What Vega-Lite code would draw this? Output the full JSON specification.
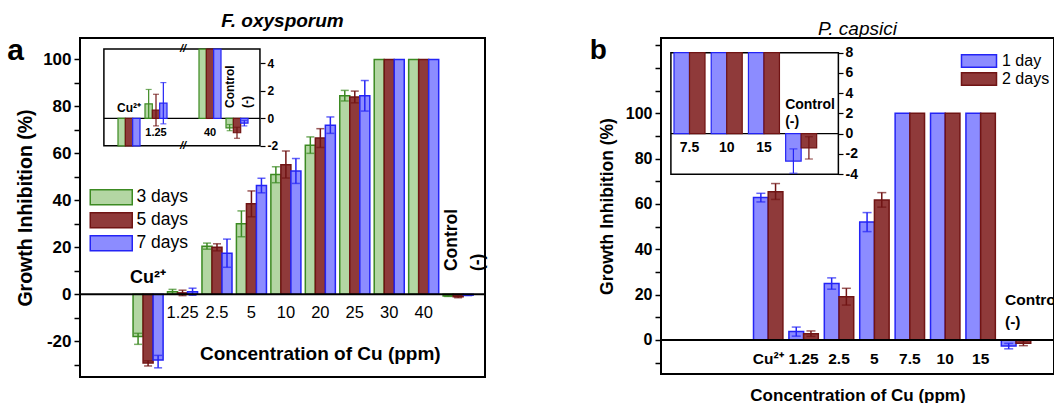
{
  "$schema": "https://vega.github.io/schema/vega-lite/v6.json",
  "background": "white",
  "padding": {"left": 6, "top": 11, "right": 0, "bottom": 0},
  "spacing": 100,
  "datasets": {
    "a_main": [
      {"cat": "Cu²⁺", "s": "3 days", "v": -18, "lo": -21.3, "hi": -16.6},
      {"cat": "Cu²⁺", "s": "5 days", "v": -29.2, "lo": -30.5, "hi": -28.3},
      {"cat": "Cu²⁺", "s": "7 days", "v": -28, "lo": -31.3, "hi": -26},
      {"cat": "1.25", "s": "3 days", "v": 1.05, "lo": 0, "hi": 2.1},
      {"cat": "1.25", "s": "5 days", "v": 0.6, "lo": -0.55, "hi": 1.75},
      {"cat": "1.25", "s": "7 days", "v": 1.1, "lo": -0.4, "hi": 2.6},
      {"cat": "2.5", "s": "3 days", "v": 20.5, "lo": 19.2, "hi": 21.8},
      {"cat": "2.5", "s": "5 days", "v": 20, "lo": 18.5, "hi": 21.5},
      {"cat": "2.5", "s": "7 days", "v": 17.5, "lo": 11.5, "hi": 23.5},
      {"cat": "5", "s": "3 days", "v": 30, "lo": 24.5, "hi": 35.5},
      {"cat": "5", "s": "5 days", "v": 38.5, "lo": 33, "hi": 44},
      {"cat": "5", "s": "7 days", "v": 46.3, "lo": 43.2, "hi": 49.4},
      {"cat": "10", "s": "3 days", "v": 51, "lo": 47.5, "hi": 54.3},
      {"cat": "10", "s": "5 days", "v": 55.2, "lo": 49.5, "hi": 61},
      {"cat": "10", "s": "7 days", "v": 52.5, "lo": 47.2, "hi": 57.8},
      {"cat": "20", "s": "3 days", "v": 63.5, "lo": 60, "hi": 67},
      {"cat": "20", "s": "5 days", "v": 66.5, "lo": 62.5, "hi": 70.5},
      {"cat": "20", "s": "7 days", "v": 72, "lo": 68.5, "hi": 75.5},
      {"cat": "25", "s": "3 days", "v": 84.5, "lo": 82.3, "hi": 86.8},
      {"cat": "25", "s": "5 days", "v": 84, "lo": 81.5, "hi": 86.5},
      {"cat": "25", "s": "7 days", "v": 84.5, "lo": 78, "hi": 91},
      {"cat": "30", "s": "3 days", "v": 100},
      {"cat": "30", "s": "5 days", "v": 100},
      {"cat": "30", "s": "7 days", "v": 100},
      {"cat": "40", "s": "3 days", "v": 100},
      {"cat": "40", "s": "5 days", "v": 100},
      {"cat": "40", "s": "7 days", "v": 100},
      {"cat": "Control", "s": "3 days", "v": -0.7, "lo": -0.9, "hi": -0.45},
      {"cat": "Control", "s": "5 days", "v": -1.05, "lo": -1.45, "hi": -0.65},
      {"cat": "Control", "s": "7 days", "v": -0.35, "lo": -0.55, "hi": -0.15}
    ],
    "a_inset": [
      {"cat": "Cu²⁺", "s": "3 days", "v": -2},
      {"cat": "Cu²⁺", "s": "5 days", "v": -2},
      {"cat": "Cu²⁺", "s": "7 days", "v": -2},
      {"cat": "1.25", "s": "3 days", "v": 1.05, "lo": 0, "hi": 2.1},
      {"cat": "1.25", "s": "5 days", "v": 0.6, "lo": -0.55, "hi": 1.75},
      {"cat": "1.25", "s": "7 days", "v": 1.1, "lo": -0.4, "hi": 2.6},
      {"cat": "40", "s": "3 days", "v": 5.04},
      {"cat": "40", "s": "5 days", "v": 5.04},
      {"cat": "40", "s": "7 days", "v": 5.04},
      {"cat": "Control", "s": "3 days", "v": -0.7, "lo": -0.9, "hi": -0.45},
      {"cat": "Control", "s": "5 days", "v": -1.05, "lo": -1.45, "hi": -0.65},
      {"cat": "Control", "s": "7 days", "v": -0.35, "lo": -0.55, "hi": -0.15}
    ],
    "a_lab": [
      {"cat": "1.25"}, {"cat": "2.5"}, {"cat": "5"}, {"cat": "10"},
      {"cat": "20"}, {"cat": "25"}, {"cat": "30"}, {"cat": "40"}
    ],
    "b_main": [
      {"cat": "Cu²⁺", "s": "1 day", "v": 62.8, "lo": 60.9, "hi": 64.7},
      {"cat": "Cu²⁺", "s": "2 days", "v": 65.4, "lo": 62, "hi": 69},
      {"cat": "1.25", "s": "1 day", "v": 3.7, "lo": 1.7, "hi": 5.7},
      {"cat": "1.25", "s": "2 days", "v": 2.8, "lo": 1.6, "hi": 4},
      {"cat": "2.5", "s": "1 day", "v": 24.9, "lo": 22.4, "hi": 27.4},
      {"cat": "2.5", "s": "2 days", "v": 19.1, "lo": 15.4, "hi": 22.8},
      {"cat": "5", "s": "1 day", "v": 52, "lo": 47.8, "hi": 56.2},
      {"cat": "5", "s": "2 days", "v": 61.8, "lo": 58.6, "hi": 65},
      {"cat": "7.5", "s": "1 day", "v": 100},
      {"cat": "7.5", "s": "2 days", "v": 100},
      {"cat": "10", "s": "1 day", "v": 100},
      {"cat": "10", "s": "2 days", "v": 100},
      {"cat": "15", "s": "1 day", "v": 100},
      {"cat": "15", "s": "2 days", "v": 100},
      {"cat": "Control", "s": "1 day", "v": -2.7, "lo": -3.9, "hi": -1.5},
      {"cat": "Control", "s": "2 days", "v": -1.4, "lo": -2.5, "hi": -0.3}
    ],
    "b_inset": [
      {"cat": "7.5", "s": "1 day", "v": 8},
      {"cat": "7.5", "s": "2 days", "v": 8},
      {"cat": "10", "s": "1 day", "v": 8},
      {"cat": "10", "s": "2 days", "v": 8},
      {"cat": "15", "s": "1 day", "v": 8},
      {"cat": "15", "s": "2 days", "v": 8},
      {"cat": "Control", "s": "1 day", "v": -2.7, "lo": -3.9, "hi": -1.5},
      {"cat": "Control", "s": "2 days", "v": -1.4, "lo": -2.5, "hi": -0.3}
    ],
    "b_lab": [
      {"cat": "Cu²⁺"}, {"cat": "1.25"}, {"cat": "2.5"}, {"cat": "5"},
      {"cat": "7.5"}, {"cat": "10"}, {"cat": "15"}
    ]
  },
  "hconcat": [
    {
      "width": 405,
      "height": 339,
      "title": {"text": "F. oxysporum", "fontSize": 19, "fontWeight": "bold", "fontStyle": "italic", "offset": 5},
      "layer": [
        {
          "layer": [
            {
              "data": {"name": "a_main"},
              "mark": {"type": "bar", "strokeWidth": 1.5},
              "encoding": {
                "x": {"field": "cat", "type": "nominal", "axis": null, "scale": {"domain": ["_", "Cu²⁺", "1.25", "2.5", "5", "10", "20", "25", "30", "40", "Control"], "paddingInner": 0, "paddingOuter": 0.378, "align": 0.63}},
                "xOffset": {"field": "s", "type": "nominal", "scale": {"paddingInner": 0, "paddingOuter": 0.22}},
                "y": {"field": "v", "type": "quantitative", "scale": {"domain": [-35.2, 109.1], "nice": false, "zero": false},
                  "axis": {"title": "Growth Inhibition  (%)", "titleFontSize": 19.5, "titleFontWeight": "bold", "titleColor": "black", "titlePadding": 7, "values": [-30, -20, -10, 0, 10, 20, 30, 40, 50, 60, 70, 80, 90, 100], "labelExpr": "indexof([-20, 0, 20, 40, 60, 80, 100], datum.value) >= 0 ? '' + datum.value : ''", "labelFontSize": 17, "labelFontWeight": "bold", "labelColor": "black", "labelPadding": 3, "labelOverlap": false, "tickSize": 6, "tickWidth": 1.5, "tickColor": "black", "domain": false, "grid": false}},
                "fill": {"field": "s", "type": "nominal", "scale": {"domain": ["3 days", "5 days", "7 days"], "range": ["#b3d6a3", "#8f3a3a", "#8c8cff"]},
                  "legend": {"title": null, "orient": "none", "legendX": 22.5, "legendY": 150.5, "symbolType": "M-2.8,-1H2.8V1H-2.8Z", "symbolSize": 225, "symbolStrokeWidth": 1.5, "labelFontSize": 17.5, "labelColor": "black", "labelOffset": 16.5, "rowPadding": 1, "padding": 0}},
                "stroke": {"field": "s", "type": "nominal", "scale": {"domain": ["3 days", "5 days", "7 days"], "range": ["#3c8a22", "#701414", "#2424f5"]},
                  "legend": {"title": null, "orient": "none", "legendX": 22.5, "legendY": 150.5, "symbolType": "M-2.8,-1H2.8V1H-2.8Z", "symbolSize": 225, "symbolStrokeWidth": 1.5, "labelFontSize": 17.5, "labelColor": "black", "labelOffset": 16.5, "rowPadding": 1, "padding": 0}}
              }
            },
            {
              "data": {"name": "a_main"},
              "mark": {"type": "rule", "strokeWidth": 1.5},
              "encoding": {
                "x": {"field": "cat", "type": "nominal", "axis": null, "scale": {"domain": ["_", "Cu²⁺", "1.25", "2.5", "5", "10", "20", "25", "30", "40", "Control"], "paddingInner": 0, "paddingOuter": 0.378, "align": 0.63}},
                "xOffset": {"field": "s", "type": "nominal", "scale": {"paddingInner": 0, "paddingOuter": 0.22}},
                "y": {"field": "lo", "type": "quantitative", "scale": {"domain": [-35.2, 109.1], "nice": false, "zero": false},
                  "axis": {"title": "Growth Inhibition  (%)", "titleFontSize": 19.5, "titleFontWeight": "bold", "titleColor": "black", "titlePadding": 7, "values": [-30, -20, -10, 0, 10, 20, 30, 40, 50, 60, 70, 80, 90, 100], "labelExpr": "indexof([-20, 0, 20, 40, 60, 80, 100], datum.value) >= 0 ? '' + datum.value : ''", "labelFontSize": 17, "labelFontWeight": "bold", "labelColor": "black", "labelPadding": 3, "labelOverlap": false, "tickSize": 6, "tickWidth": 1.5, "tickColor": "black", "domain": false, "grid": false}},
                "y2": {"field": "hi"},
                "color": {"field": "s", "type": "nominal", "scale": {"domain": ["3 days", "5 days", "7 days"], "range": ["#3c8a22", "#701414", "#2424f5"]}, "legend": null}
              }
            },
            {
              "data": {"name": "a_main"},
              "mark": {"type": "tick", "thickness": 1.5, "size": 8},
              "encoding": {
                "x": {"field": "cat", "type": "nominal", "axis": null, "scale": {"domain": ["_", "Cu²⁺", "1.25", "2.5", "5", "10", "20", "25", "30", "40", "Control"], "paddingInner": 0, "paddingOuter": 0.378, "align": 0.63}},
                "xOffset": {"field": "s", "type": "nominal", "scale": {"paddingInner": 0, "paddingOuter": 0.22}},
                "y": {"field": "lo", "type": "quantitative", "scale": {"domain": [-35.2, 109.1], "nice": false, "zero": false},
                  "axis": {"title": "Growth Inhibition  (%)", "titleFontSize": 19.5, "titleFontWeight": "bold", "titleColor": "black", "titlePadding": 7, "values": [-30, -20, -10, 0, 10, 20, 30, 40, 50, 60, 70, 80, 90, 100], "labelExpr": "indexof([-20, 0, 20, 40, 60, 80, 100], datum.value) >= 0 ? '' + datum.value : ''", "labelFontSize": 17, "labelFontWeight": "bold", "labelColor": "black", "labelPadding": 3, "labelOverlap": false, "tickSize": 6, "tickWidth": 1.5, "tickColor": "black", "domain": false, "grid": false}},
                "color": {"field": "s", "type": "nominal", "scale": {"domain": ["3 days", "5 days", "7 days"], "range": ["#3c8a22", "#701414", "#2424f5"]}, "legend": null}
              }
            },
            {
              "data": {"name": "a_main"},
              "mark": {"type": "tick", "thickness": 1.5, "size": 8},
              "encoding": {
                "x": {"field": "cat", "type": "nominal", "axis": null, "scale": {"domain": ["_", "Cu²⁺", "1.25", "2.5", "5", "10", "20", "25", "30", "40", "Control"], "paddingInner": 0, "paddingOuter": 0.378, "align": 0.63}},
                "xOffset": {"field": "s", "type": "nominal", "scale": {"paddingInner": 0, "paddingOuter": 0.22}},
                "y": {"field": "hi", "type": "quantitative", "scale": {"domain": [-35.2, 109.1], "nice": false, "zero": false},
                  "axis": {"title": "Growth Inhibition  (%)", "titleFontSize": 19.5, "titleFontWeight": "bold", "titleColor": "black", "titlePadding": 7, "values": [-30, -20, -10, 0, 10, 20, 30, 40, 50, 60, 70, 80, 90, 100], "labelExpr": "indexof([-20, 0, 20, 40, 60, 80, 100], datum.value) >= 0 ? '' + datum.value : ''", "labelFontSize": 17, "labelFontWeight": "bold", "labelColor": "black", "labelPadding": 3, "labelOverlap": false, "tickSize": 6, "tickWidth": 1.5, "tickColor": "black", "domain": false, "grid": false}},
                "color": {"field": "s", "type": "nominal", "scale": {"domain": ["3 days", "5 days", "7 days"], "range": ["#3c8a22", "#701414", "#2424f5"]}, "legend": null}
              }
            },
            {
              "data": {"values": [{}]},
              "mark": {"type": "rule", "strokeWidth": 2, "color": "black"},
              "encoding": {
                "y": {"datum": 0, "type": "quantitative", "scale": {"domain": [-35.2, 109.1], "nice": false, "zero": false},
                  "axis": {"title": "Growth Inhibition  (%)", "titleFontSize": 19.5, "titleFontWeight": "bold", "titleColor": "black", "titlePadding": 7, "values": [-30, -20, -10, 0, 10, 20, 30, 40, 50, 60, 70, 80, 90, 100], "labelExpr": "indexof([-20, 0, 20, 40, 60, 80, 100], datum.value) >= 0 ? '' + datum.value : ''", "labelFontSize": 17, "labelFontWeight": "bold", "labelColor": "black", "labelPadding": 3, "labelOverlap": false, "tickSize": 6, "tickWidth": 1.5, "tickColor": "black", "domain": false, "grid": false}}
              }
            },
            {
              "data": {"name": "a_lab"},
              "mark": {"type": "text", "fontSize": 16.5, "color": "black", "baseline": "middle"},
              "encoding": {
                "x": {"field": "cat", "type": "nominal", "axis": null, "scale": {"domain": ["_", "Cu²⁺", "1.25", "2.5", "5", "10", "20", "25", "30", "40", "Control"], "paddingInner": 0, "paddingOuter": 0.378, "align": 0.63}},
                "y": {"datum": -8, "type": "quantitative", "scale": {"domain": [-35.2, 109.1], "nice": false, "zero": false},
                  "axis": {"title": "Growth Inhibition  (%)", "titleFontSize": 19.5, "titleFontWeight": "bold", "titleColor": "black", "titlePadding": 7, "values": [-30, -20, -10, 0, 10, 20, 30, 40, 50, 60, 70, 80, 90, 100], "labelExpr": "indexof([-20, 0, 20, 40, 60, 80, 100], datum.value) >= 0 ? '' + datum.value : ''", "labelFontSize": 17, "labelFontWeight": "bold", "labelColor": "black", "labelPadding": 3, "labelOverlap": false, "tickSize": 6, "tickWidth": 1.5, "tickColor": "black", "domain": false, "grid": false}},
                "text": {"field": "cat"}
              }
            },
            {
              "data": {"values": [{}]},
              "mark": {"type": "text", "text": "Cu²⁺", "fontSize": 18, "fontWeight": "bold", "color": "black", "baseline": "middle"},
              "encoding": {
                "x": {"datum": "Cu²⁺", "type": "nominal", "axis": null, "scale": {"domain": ["_", "Cu²⁺", "1.25", "2.5", "5", "10", "20", "25", "30", "40", "Control"], "paddingInner": 0, "paddingOuter": 0.378, "align": 0.63}},
                "y": {"datum": 7, "type": "quantitative", "scale": {"domain": [-35.2, 109.1], "nice": false, "zero": false},
                  "axis": {"title": "Growth Inhibition  (%)", "titleFontSize": 19.5, "titleFontWeight": "bold", "titleColor": "black", "titlePadding": 7, "values": [-30, -20, -10, 0, 10, 20, 30, 40, 50, 60, 70, 80, 90, 100], "labelExpr": "indexof([-20, 0, 20, 40, 60, 80, 100], datum.value) >= 0 ? '' + datum.value : ''", "labelFontSize": 17, "labelFontWeight": "bold", "labelColor": "black", "labelPadding": 3, "labelOverlap": false, "tickSize": 6, "tickWidth": 1.5, "tickColor": "black", "domain": false, "grid": false}}
              }
            },
            {
              "data": {"values": [{}]},
              "mark": {"type": "text", "text": ["Control", "(-)"], "angle": 270, "align": "left", "baseline": "middle", "lineHeight": 26, "fontSize": 17.5, "fontWeight": "bold", "color": "black", "dy": -6},
              "encoding": {
                "x": {"datum": "Control", "type": "nominal", "axis": null, "scale": {"domain": ["_", "Cu²⁺", "1.25", "2.5", "5", "10", "20", "25", "30", "40", "Control"], "paddingInner": 0, "paddingOuter": 0.378, "align": 0.63}},
                "y": {"datum": 9.9, "type": "quantitative", "scale": {"domain": [-35.2, 109.1], "nice": false, "zero": false},
                  "axis": {"title": "Growth Inhibition  (%)", "titleFontSize": 19.5, "titleFontWeight": "bold", "titleColor": "black", "titlePadding": 7, "values": [-30, -20, -10, 0, 10, 20, 30, 40, 50, 60, 70, 80, 90, 100], "labelExpr": "indexof([-20, 0, 20, 40, 60, 80, 100], datum.value) >= 0 ? '' + datum.value : ''", "labelFontSize": 17, "labelFontWeight": "bold", "labelColor": "black", "labelPadding": 3, "labelOverlap": false, "tickSize": 6, "tickWidth": 1.5, "tickColor": "black", "domain": false, "grid": false}}
              }
            },
            {
              "data": {"values": [{}]},
              "mark": {"type": "text", "text": "Concentration of Cu (ppm)", "fontSize": 19, "fontWeight": "bold", "color": "black", "baseline": "middle"},
              "encoding": {
                "x": {"datum": "20", "type": "nominal", "axis": null, "scale": {"domain": ["_", "Cu²⁺", "1.25", "2.5", "5", "10", "20", "25", "30", "40", "Control"], "paddingInner": 0, "paddingOuter": 0.378, "align": 0.63}},
                "y": {"datum": -25.4, "type": "quantitative", "scale": {"domain": [-35.2, 109.1], "nice": false, "zero": false},
                  "axis": {"title": "Growth Inhibition  (%)", "titleFontSize": 19.5, "titleFontWeight": "bold", "titleColor": "black", "titlePadding": 7, "values": [-30, -20, -10, 0, 10, 20, 30, 40, 50, 60, 70, 80, 90, 100], "labelExpr": "indexof([-20, 0, 20, 40, 60, 80, 100], datum.value) >= 0 ? '' + datum.value : ''", "labelFontSize": 17, "labelFontWeight": "bold", "labelColor": "black", "labelPadding": 3, "labelOverlap": false, "tickSize": 6, "tickWidth": 1.5, "tickColor": "black", "domain": false, "grid": false}}
              }
            },
            {
              "data": {"values": [{}]},
              "mark": {"type": "text", "text": "a", "fontSize": 30, "fontWeight": "bold", "color": "black", "baseline": "middle", "dx": -98},
              "encoding": {
                "x": {"datum": "_", "type": "nominal", "axis": null, "scale": {"domain": ["_", "Cu²⁺", "1.25", "2.5", "5", "10", "20", "25", "30", "40", "Control"], "paddingInner": 0, "paddingOuter": 0.378, "align": 0.63}},
                "y": {"datum": 103.5, "type": "quantitative", "scale": {"domain": [-35.2, 109.1], "nice": false, "zero": false},
                  "axis": {"title": "Growth Inhibition  (%)", "titleFontSize": 19.5, "titleFontWeight": "bold", "titleColor": "black", "titlePadding": 7, "values": [-30, -20, -10, 0, 10, 20, 30, 40, 50, 60, 70, 80, 90, 100], "labelExpr": "indexof([-20, 0, 20, 40, 60, 80, 100], datum.value) >= 0 ? '' + datum.value : ''", "labelFontSize": 17, "labelFontWeight": "bold", "labelColor": "black", "labelPadding": 3, "labelOverlap": false, "tickSize": 6, "tickWidth": 1.5, "tickColor": "black", "domain": false, "grid": false}}
              }
            }
          ]
        },
        {
          "layer": [
            {
              "data": {"values": [{}]},
              "mark": {"type": "rect", "fill": "white", "stroke": "black", "strokeWidth": 1.5},
              "encoding": {
                "x": {"datum": "_a", "bandPosition": 0.57, "type": "nominal", "axis": null, "scale": {"domain": ["_a", "Cu²⁺", "1.25", "brk", "40", "Control", "_1", "_2", "_3", "_4", "_5", "_6", "_7", "_8"], "paddingInner": 0, "paddingOuter": 0.5, "align": 0.315}},
                "x2": {"datum": "_1", "bandPosition": 0.35},
                "y": {"datum": 5.04, "type": "quantitative", "scale": {"domain": [-18.81, 5.842], "nice": false, "zero": false}},
                "y2": {"datum": -2}
              }
            },
            {
              "data": {"values": [{}]},
              "mark": {"type": "rule", "strokeWidth": 1.2, "color": "black"},
              "encoding": {
                "x": {"datum": "_a", "bandPosition": 0.57, "type": "nominal", "axis": null, "scale": {"domain": ["_a", "Cu²⁺", "1.25", "brk", "40", "Control", "_1", "_2", "_3", "_4", "_5", "_6", "_7", "_8"], "paddingInner": 0, "paddingOuter": 0.5, "align": 0.315}},
                "x2": {"datum": "_1", "bandPosition": 0.35},
                "y": {"datum": 0, "type": "quantitative", "scale": {"domain": [-18.81, 5.842], "nice": false, "zero": false}}
              }
            },
            {
              "data": {"name": "a_inset"},
              "mark": {"type": "bar", "strokeWidth": 1.2},
              "encoding": {
                "x": {"field": "cat", "type": "nominal", "axis": null, "scale": {"domain": ["_a", "Cu²⁺", "1.25", "brk", "40", "Control", "_1", "_2", "_3", "_4", "_5", "_6", "_7", "_8"], "paddingInner": 0, "paddingOuter": 0.5, "align": 0.315}},
                "xOffset": {"field": "s", "type": "nominal", "scale": {"paddingInner": 0, "paddingOuter": 0.34}},
                "y": {"field": "v", "type": "quantitative", "scale": {"domain": [-18.81, 5.842], "nice": false, "zero": false},
                  "axis": {"orient": "right", "offset": -225, "title": null, "values": [-2, 0, 2, 4], "labelExpr": "'' + datum.value", "domain": false, "grid": false, "tickSize": 5, "tickWidth": 1.2, "tickColor": "black", "labelFontSize": 12, "labelFontWeight": "bold", "labelColor": "black", "labelPadding": 2, "labelOverlap": false}},
                "fill": {"field": "s", "type": "nominal", "scale": {"domain": ["3 days", "5 days", "7 days"], "range": ["#b3d6a3", "#8f3a3a", "#8c8cff"]}, "legend": null},
                "stroke": {"field": "s", "type": "nominal", "scale": {"domain": ["3 days", "5 days", "7 days"], "range": ["#3c8a22", "#701414", "#2424f5"]}, "legend": null}
              }
            },
            {
              "data": {"name": "a_inset"},
              "mark": {"type": "rule", "strokeWidth": 1.2},
              "encoding": {
                "x": {"field": "cat", "type": "nominal", "axis": null, "scale": {"domain": ["_a", "Cu²⁺", "1.25", "brk", "40", "Control", "_1", "_2", "_3", "_4", "_5", "_6", "_7", "_8"], "paddingInner": 0, "paddingOuter": 0.5, "align": 0.315}},
                "xOffset": {"field": "s", "type": "nominal", "scale": {"paddingInner": 0, "paddingOuter": 0.34}},
                "y": {"field": "lo", "type": "quantitative", "scale": {"domain": [-18.81, 5.842], "nice": false, "zero": false}},
                "y2": {"field": "hi"},
                "color": {"field": "s", "type": "nominal", "scale": {"domain": ["3 days", "5 days", "7 days"], "range": ["#3c8a22", "#701414", "#2424f5"]}, "legend": null}
              }
            },
            {
              "data": {"name": "a_inset"},
              "mark": {"type": "tick", "thickness": 1.2, "size": 6},
              "encoding": {
                "x": {"field": "cat", "type": "nominal", "axis": null, "scale": {"domain": ["_a", "Cu²⁺", "1.25", "brk", "40", "Control", "_1", "_2", "_3", "_4", "_5", "_6", "_7", "_8"], "paddingInner": 0, "paddingOuter": 0.5, "align": 0.315}},
                "xOffset": {"field": "s", "type": "nominal", "scale": {"paddingInner": 0, "paddingOuter": 0.34}},
                "y": {"field": "lo", "type": "quantitative", "scale": {"domain": [-18.81, 5.842], "nice": false, "zero": false}},
                "color": {"field": "s", "type": "nominal", "scale": {"domain": ["3 days", "5 days", "7 days"], "range": ["#3c8a22", "#701414", "#2424f5"]}, "legend": null}
              }
            },
            {
              "data": {"name": "a_inset"},
              "mark": {"type": "tick", "thickness": 1.2, "size": 6},
              "encoding": {
                "x": {"field": "cat", "type": "nominal", "axis": null, "scale": {"domain": ["_a", "Cu²⁺", "1.25", "brk", "40", "Control", "_1", "_2", "_3", "_4", "_5", "_6", "_7", "_8"], "paddingInner": 0, "paddingOuter": 0.5, "align": 0.315}},
                "xOffset": {"field": "s", "type": "nominal", "scale": {"paddingInner": 0, "paddingOuter": 0.34}},
                "y": {"field": "hi", "type": "quantitative", "scale": {"domain": [-18.81, 5.842], "nice": false, "zero": false}},
                "color": {"field": "s", "type": "nominal", "scale": {"domain": ["3 days", "5 days", "7 days"], "range": ["#3c8a22", "#701414", "#2424f5"]}, "legend": null}
              }
            },
            {
              "data": {"values": [{"cat": "1.25"}, {"cat": "40"}]},
              "mark": {"type": "text", "fontSize": 11, "fontWeight": "bold", "color": "black", "baseline": "middle"},
              "encoding": {
                "x": {"field": "cat", "type": "nominal", "axis": null, "scale": {"domain": ["_a", "Cu²⁺", "1.25", "brk", "40", "Control", "_1", "_2", "_3", "_4", "_5", "_6", "_7", "_8"], "paddingInner": 0, "paddingOuter": 0.5, "align": 0.315}},
                "y": {"datum": -1.07, "type": "quantitative", "scale": {"domain": [-18.81, 5.842], "nice": false, "zero": false}},
                "text": {"field": "cat"}
              }
            },
            {
              "data": {"values": [{}]},
              "mark": {"type": "text", "text": "Cu²⁺", "fontSize": 12, "fontWeight": "bold", "color": "black", "baseline": "middle"},
              "encoding": {
                "x": {"datum": "Cu²⁺", "type": "nominal", "axis": null, "scale": {"domain": ["_a", "Cu²⁺", "1.25", "brk", "40", "Control", "_1", "_2", "_3", "_4", "_5", "_6", "_7", "_8"], "paddingInner": 0, "paddingOuter": 0.5, "align": 0.315}},
                "y": {"datum": 0.75, "type": "quantitative", "scale": {"domain": [-18.81, 5.842], "nice": false, "zero": false}}
              }
            },
            {
              "data": {"values": [{}]},
              "mark": {"type": "text", "text": ["Control", "(-)"], "angle": 270, "align": "left", "baseline": "middle", "lineHeight": 17, "fontSize": 12, "fontWeight": "bold", "color": "black", "dy": -7},
              "encoding": {
                "x": {"datum": "Control", "type": "nominal", "axis": null, "scale": {"domain": ["_a", "Cu²⁺", "1.25", "brk", "40", "Control", "_1", "_2", "_3", "_4", "_5", "_6", "_7", "_8"], "paddingInner": 0, "paddingOuter": 0.5, "align": 0.315}},
                "y": {"datum": 0.75, "type": "quantitative", "scale": {"domain": [-18.81, 5.842], "nice": false, "zero": false}}
              }
            },
            {
              "data": {"values": [{"edge": 5.04}, {"edge": -2}]},
              "mark": {"type": "text", "text": "//", "fontSize": 11, "fontWeight": "bold", "fontStyle": "italic", "color": "black", "baseline": "middle"},
              "encoding": {
                "x": {"datum": "brk", "type": "nominal", "axis": null, "scale": {"domain": ["_a", "Cu²⁺", "1.25", "brk", "40", "Control", "_1", "_2", "_3", "_4", "_5", "_6", "_7", "_8"], "paddingInner": 0, "paddingOuter": 0.5, "align": 0.315}},
                "y": {"field": "edge", "type": "quantitative", "scale": {"domain": [-18.81, 5.842], "nice": false, "zero": false}}
              }
            }
          ]
        }
      ],
      "resolve": {"scale": {"x": "independent", "y": "independent", "xOffset": "independent"}}
    },
    {
      "width": 393,
      "height": 336,
      "title": {"text": "P. capsici", "fontSize": 19, "fontWeight": "normal", "fontStyle": "italic", "offset": -2},
      "layer": [
        {
          "layer": [
            {
              "data": {"name": "b_main"},
              "mark": {"type": "bar", "strokeWidth": 1.5},
              "encoding": {
                "x": {"field": "cat", "type": "nominal", "scale": {"domain": ["_p1", "_p2", "Cu²⁺", "1.25", "2.5", "5", "7.5", "10", "15", "Control"], "paddingInner": 0, "paddingOuter": 0.55, "align": 0.48},
                  "axis": {"orient": "bottom", "title": "Concentration of Cu (ppm)", "titleFontSize": 17, "titleFontWeight": "bold", "titleColor": "black", "labels": false, "ticks": false, "domain": false, "titlePadding": 13}},
                "xOffset": {"field": "s", "type": "nominal", "scale": {"paddingInner": 0, "paddingOuter": 0.204}},
                "y": {"field": "v", "type": "quantitative", "scale": {"domain": [-15, 133.2], "nice": false, "zero": false},
                  "axis": {"title": "Growth Inhibition  (%)", "titleFontSize": 17.5, "titleFontWeight": "bold", "titleColor": "black", "titlePadding": 9, "values": [-10, 0, 10, 20, 30, 40, 50, 60, 70, 80, 90, 100, 110, 120, 130], "labelExpr": "indexof([0, 20, 40, 60, 80, 100], datum.value) >= 0 ? '' + datum.value : ''", "labelFontSize": 16, "labelFontWeight": "bold", "labelColor": "black", "labelPadding": 3, "labelOverlap": false, "tickSize": 6, "tickWidth": 1.5, "tickColor": "black", "domain": false, "grid": false}},
                "fill": {"field": "s", "type": "nominal", "scale": {"domain": ["1 day", "2 days"], "range": ["#8c8cff", "#8f3a3a"]},
                  "legend": {"title": null, "orient": "none", "legendX": 310, "legendY": 15, "symbolType": "M-2.76,-1H2.76V1H-2.76Z", "symbolSize": 161, "symbolStrokeWidth": 1.5, "labelFontSize": 16, "labelColor": "black", "labelOffset": 15, "rowPadding": -3, "padding": 0}},
                "stroke": {"field": "s", "type": "nominal", "scale": {"domain": ["1 day", "2 days"], "range": ["#2424f5", "#701414"]},
                  "legend": {"title": null, "orient": "none", "legendX": 310, "legendY": 15, "symbolType": "M-2.76,-1H2.76V1H-2.76Z", "symbolSize": 161, "symbolStrokeWidth": 1.5, "labelFontSize": 16, "labelColor": "black", "labelOffset": 15, "rowPadding": -3, "padding": 0}}
              }
            },
            {
              "data": {"name": "b_main"},
              "mark": {"type": "rule", "strokeWidth": 1.5},
              "encoding": {
                "x": {"field": "cat", "type": "nominal", "scale": {"domain": ["_p1", "_p2", "Cu²⁺", "1.25", "2.5", "5", "7.5", "10", "15", "Control"], "paddingInner": 0, "paddingOuter": 0.55, "align": 0.48},
                  "axis": {"orient": "bottom", "title": "Concentration of Cu (ppm)", "titleFontSize": 17, "titleFontWeight": "bold", "titleColor": "black", "labels": false, "ticks": false, "domain": false, "titlePadding": 13}},
                "xOffset": {"field": "s", "type": "nominal", "scale": {"paddingInner": 0, "paddingOuter": 0.204}},
                "y": {"field": "lo", "type": "quantitative", "scale": {"domain": [-15, 133.2], "nice": false, "zero": false},
                  "axis": {"title": "Growth Inhibition  (%)", "titleFontSize": 17.5, "titleFontWeight": "bold", "titleColor": "black", "titlePadding": 9, "values": [-10, 0, 10, 20, 30, 40, 50, 60, 70, 80, 90, 100, 110, 120, 130], "labelExpr": "indexof([0, 20, 40, 60, 80, 100], datum.value) >= 0 ? '' + datum.value : ''", "labelFontSize": 16, "labelFontWeight": "bold", "labelColor": "black", "labelPadding": 3, "labelOverlap": false, "tickSize": 6, "tickWidth": 1.5, "tickColor": "black", "domain": false, "grid": false}},
                "y2": {"field": "hi"},
                "color": {"field": "s", "type": "nominal", "scale": {"domain": ["1 day", "2 days"], "range": ["#2424f5", "#701414"]}, "legend": null}
              }
            },
            {
              "data": {"name": "b_main"},
              "mark": {"type": "tick", "thickness": 1.5, "size": 9},
              "encoding": {
                "x": {"field": "cat", "type": "nominal", "scale": {"domain": ["_p1", "_p2", "Cu²⁺", "1.25", "2.5", "5", "7.5", "10", "15", "Control"], "paddingInner": 0, "paddingOuter": 0.55, "align": 0.48},
                  "axis": {"orient": "bottom", "title": "Concentration of Cu (ppm)", "titleFontSize": 17, "titleFontWeight": "bold", "titleColor": "black", "labels": false, "ticks": false, "domain": false, "titlePadding": 13}},
                "xOffset": {"field": "s", "type": "nominal", "scale": {"paddingInner": 0, "paddingOuter": 0.204}},
                "y": {"field": "lo", "type": "quantitative", "scale": {"domain": [-15, 133.2], "nice": false, "zero": false},
                  "axis": {"title": "Growth Inhibition  (%)", "titleFontSize": 17.5, "titleFontWeight": "bold", "titleColor": "black", "titlePadding": 9, "values": [-10, 0, 10, 20, 30, 40, 50, 60, 70, 80, 90, 100, 110, 120, 130], "labelExpr": "indexof([0, 20, 40, 60, 80, 100], datum.value) >= 0 ? '' + datum.value : ''", "labelFontSize": 16, "labelFontWeight": "bold", "labelColor": "black", "labelPadding": 3, "labelOverlap": false, "tickSize": 6, "tickWidth": 1.5, "tickColor": "black", "domain": false, "grid": false}},
                "color": {"field": "s", "type": "nominal", "scale": {"domain": ["1 day", "2 days"], "range": ["#2424f5", "#701414"]}, "legend": null}
              }
            },
            {
              "data": {"name": "b_main"},
              "mark": {"type": "tick", "thickness": 1.5, "size": 9},
              "encoding": {
                "x": {"field": "cat", "type": "nominal", "scale": {"domain": ["_p1", "_p2", "Cu²⁺", "1.25", "2.5", "5", "7.5", "10", "15", "Control"], "paddingInner": 0, "paddingOuter": 0.55, "align": 0.48},
                  "axis": {"orient": "bottom", "title": "Concentration of Cu (ppm)", "titleFontSize": 17, "titleFontWeight": "bold", "titleColor": "black", "labels": false, "ticks": false, "domain": false, "titlePadding": 13}},
                "xOffset": {"field": "s", "type": "nominal", "scale": {"paddingInner": 0, "paddingOuter": 0.204}},
                "y": {"field": "hi", "type": "quantitative", "scale": {"domain": [-15, 133.2], "nice": false, "zero": false},
                  "axis": {"title": "Growth Inhibition  (%)", "titleFontSize": 17.5, "titleFontWeight": "bold", "titleColor": "black", "titlePadding": 9, "values": [-10, 0, 10, 20, 30, 40, 50, 60, 70, 80, 90, 100, 110, 120, 130], "labelExpr": "indexof([0, 20, 40, 60, 80, 100], datum.value) >= 0 ? '' + datum.value : ''", "labelFontSize": 16, "labelFontWeight": "bold", "labelColor": "black", "labelPadding": 3, "labelOverlap": false, "tickSize": 6, "tickWidth": 1.5, "tickColor": "black", "domain": false, "grid": false}},
                "color": {"field": "s", "type": "nominal", "scale": {"domain": ["1 day", "2 days"], "range": ["#2424f5", "#701414"]}, "legend": null}
              }
            },
            {
              "data": {"values": [{}]},
              "mark": {"type": "rule", "strokeWidth": 2, "color": "black"},
              "encoding": {
                "y": {"datum": 0, "type": "quantitative", "scale": {"domain": [-15, 133.2], "nice": false, "zero": false},
                  "axis": {"title": "Growth Inhibition  (%)", "titleFontSize": 17.5, "titleFontWeight": "bold", "titleColor": "black", "titlePadding": 9, "values": [-10, 0, 10, 20, 30, 40, 50, 60, 70, 80, 90, 100, 110, 120, 130], "labelExpr": "indexof([0, 20, 40, 60, 80, 100], datum.value) >= 0 ? '' + datum.value : ''", "labelFontSize": 16, "labelFontWeight": "bold", "labelColor": "black", "labelPadding": 3, "labelOverlap": false, "tickSize": 6, "tickWidth": 1.5, "tickColor": "black", "domain": false, "grid": false}}
              }
            },
            {
              "data": {"name": "b_lab"},
              "mark": {"type": "text", "fontSize": 15.5, "fontWeight": "bold", "color": "black", "baseline": "middle"},
              "encoding": {
                "x": {"field": "cat", "type": "nominal", "scale": {"domain": ["_p1", "_p2", "Cu²⁺", "1.25", "2.5", "5", "7.5", "10", "15", "Control"], "paddingInner": 0, "paddingOuter": 0.55, "align": 0.48},
                  "axis": {"orient": "bottom", "title": "Concentration of Cu (ppm)", "titleFontSize": 17, "titleFontWeight": "bold", "titleColor": "black", "labels": false, "ticks": false, "domain": false, "titlePadding": 13}},
                "y": {"datum": -8.4, "type": "quantitative", "scale": {"domain": [-15, 133.2], "nice": false, "zero": false},
                  "axis": {"title": "Growth Inhibition  (%)", "titleFontSize": 17.5, "titleFontWeight": "bold", "titleColor": "black", "titlePadding": 9, "values": [-10, 0, 10, 20, 30, 40, 50, 60, 70, 80, 90, 100, 110, 120, 130], "labelExpr": "indexof([0, 20, 40, 60, 80, 100], datum.value) >= 0 ? '' + datum.value : ''", "labelFontSize": 16, "labelFontWeight": "bold", "labelColor": "black", "labelPadding": 3, "labelOverlap": false, "tickSize": 6, "tickWidth": 1.5, "tickColor": "black", "domain": false, "grid": false}},
                "text": {"field": "cat"}
              }
            },
            {
              "data": {"values": [{}]},
              "mark": {"type": "text", "text": ["Control", "(-)"], "align": "left", "baseline": "middle", "lineHeight": 22, "fontSize": 15.5, "fontWeight": "bold", "color": "black", "dx": -11, "clip": true},
              "encoding": {
                "x": {"datum": "Control", "type": "nominal", "scale": {"domain": ["_p1", "_p2", "Cu²⁺", "1.25", "2.5", "5", "7.5", "10", "15", "Control"], "paddingInner": 0, "paddingOuter": 0.55, "align": 0.48},
                  "axis": {"orient": "bottom", "title": "Concentration of Cu (ppm)", "titleFontSize": 17, "titleFontWeight": "bold", "titleColor": "black", "labels": false, "ticks": false, "domain": false, "titlePadding": 13}},
                "y": {"datum": 17.5, "type": "quantitative", "scale": {"domain": [-15, 133.2], "nice": false, "zero": false},
                  "axis": {"title": "Growth Inhibition  (%)", "titleFontSize": 17.5, "titleFontWeight": "bold", "titleColor": "black", "titlePadding": 9, "values": [-10, 0, 10, 20, 30, 40, 50, 60, 70, 80, 90, 100, 110, 120, 130], "labelExpr": "indexof([0, 20, 40, 60, 80, 100], datum.value) >= 0 ? '' + datum.value : ''", "labelFontSize": 16, "labelFontWeight": "bold", "labelColor": "black", "labelPadding": 3, "labelOverlap": false, "tickSize": 6, "tickWidth": 1.5, "tickColor": "black", "domain": false, "grid": false}}
              }
            },
            {
              "data": {"values": [{}]},
              "mark": {"type": "text", "text": "b", "fontSize": 28, "fontWeight": "bold", "color": "black", "baseline": "middle", "dx": -99},
              "encoding": {
                "x": {"datum": "_p1", "type": "nominal", "scale": {"domain": ["_p1", "_p2", "Cu²⁺", "1.25", "2.5", "5", "7.5", "10", "15", "Control"], "paddingInner": 0, "paddingOuter": 0.55, "align": 0.48},
                  "axis": {"orient": "bottom", "title": "Concentration of Cu (ppm)", "titleFontSize": 17, "titleFontWeight": "bold", "titleColor": "black", "labels": false, "ticks": false, "domain": false, "titlePadding": 13}},
                "y": {"datum": 127.5, "type": "quantitative", "scale": {"domain": [-15, 133.2], "nice": false, "zero": false},
                  "axis": {"title": "Growth Inhibition  (%)", "titleFontSize": 17.5, "titleFontWeight": "bold", "titleColor": "black", "titlePadding": 9, "values": [-10, 0, 10, 20, 30, 40, 50, 60, 70, 80, 90, 100, 110, 120, 130], "labelExpr": "indexof([0, 20, 40, 60, 80, 100], datum.value) >= 0 ? '' + datum.value : ''", "labelFontSize": 16, "labelFontWeight": "bold", "labelColor": "black", "labelPadding": 3, "labelOverlap": false, "tickSize": 6, "tickWidth": 1.5, "tickColor": "black", "domain": false, "grid": false}}
              }
            }
          ]
        },
        {
          "layer": [
            {
              "data": {"values": [{}]},
              "mark": {"type": "rect", "fill": "white", "stroke": "black", "strokeWidth": 1.5},
              "encoding": {
                "x": {"datum": "7.5", "bandPosition": 0, "type": "nominal", "axis": null, "scale": {"domain": ["7.5", "10", "15", "Control", "_1", "_2", "_3", "_4", "_5", "_6"], "paddingInner": 0, "paddingOuter": 0.28, "align": 0.475}},
                "x2": {"datum": "_1", "bandPosition": 0.5},
                "y": {"datum": 8, "type": "quantitative", "scale": {"domain": [-23.73, 9.45], "nice": false, "zero": false}},
                "y2": {"datum": -4}
              }
            },
            {
              "data": {"values": [{}]},
              "mark": {"type": "rule", "strokeWidth": 1.2, "color": "black"},
              "encoding": {
                "x": {"datum": "7.5", "bandPosition": 0, "type": "nominal", "axis": null, "scale": {"domain": ["7.5", "10", "15", "Control", "_1", "_2", "_3", "_4", "_5", "_6"], "paddingInner": 0, "paddingOuter": 0.28, "align": 0.475}},
                "x2": {"datum": "_1", "bandPosition": 0.5},
                "y": {"datum": 0, "type": "quantitative", "scale": {"domain": [-23.73, 9.45], "nice": false, "zero": false}}
              }
            },
            {
              "data": {"name": "b_inset"},
              "mark": {"type": "bar", "strokeWidth": 1.2},
              "encoding": {
                "x": {"field": "cat", "type": "nominal", "axis": null, "scale": {"domain": ["7.5", "10", "15", "Control", "_1", "_2", "_3", "_4", "_5", "_6"], "paddingInner": 0, "paddingOuter": 0.28, "align": 0.475}},
                "xOffset": {"field": "s", "type": "nominal", "scale": {"paddingInner": 0, "paddingOuter": 0.2}},
                "y": {"field": "v", "type": "quantitative", "scale": {"domain": [-23.73, 9.45], "nice": false, "zero": false},
                  "axis": {"orient": "right", "offset": -216, "title": null, "values": [-4, -2, 0, 2, 4, 6, 8], "labelExpr": "'' + datum.value", "domain": false, "grid": false, "tickSize": 5, "tickWidth": 1.2, "tickColor": "black", "labelFontSize": 14, "labelFontWeight": "bold", "labelColor": "black", "labelPadding": 2, "labelOverlap": false}},
                "fill": {"field": "s", "type": "nominal", "scale": {"domain": ["1 day", "2 days"], "range": ["#8c8cff", "#8f3a3a"]}, "legend": null},
                "stroke": {"field": "s", "type": "nominal", "scale": {"domain": ["1 day", "2 days"], "range": ["#2424f5", "#701414"]}, "legend": null}
              }
            },
            {
              "data": {"name": "b_inset"},
              "mark": {"type": "rule", "strokeWidth": 1.2},
              "encoding": {
                "x": {"field": "cat", "type": "nominal", "axis": null, "scale": {"domain": ["7.5", "10", "15", "Control", "_1", "_2", "_3", "_4", "_5", "_6"], "paddingInner": 0, "paddingOuter": 0.28, "align": 0.475}},
                "xOffset": {"field": "s", "type": "nominal", "scale": {"paddingInner": 0, "paddingOuter": 0.2}},
                "y": {"field": "lo", "type": "quantitative", "scale": {"domain": [-23.73, 9.45], "nice": false, "zero": false}},
                "y2": {"field": "hi"},
                "color": {"field": "s", "type": "nominal", "scale": {"domain": ["1 day", "2 days"], "range": ["#2424f5", "#701414"]}, "legend": null}
              }
            },
            {
              "data": {"name": "b_inset"},
              "mark": {"type": "tick", "thickness": 1.2, "size": 8},
              "encoding": {
                "x": {"field": "cat", "type": "nominal", "axis": null, "scale": {"domain": ["7.5", "10", "15", "Control", "_1", "_2", "_3", "_4", "_5", "_6"], "paddingInner": 0, "paddingOuter": 0.28, "align": 0.475}},
                "xOffset": {"field": "s", "type": "nominal", "scale": {"paddingInner": 0, "paddingOuter": 0.2}},
                "y": {"field": "lo", "type": "quantitative", "scale": {"domain": [-23.73, 9.45], "nice": false, "zero": false}},
                "color": {"field": "s", "type": "nominal", "scale": {"domain": ["1 day", "2 days"], "range": ["#2424f5", "#701414"]}, "legend": null}
              }
            },
            {
              "data": {"name": "b_inset"},
              "mark": {"type": "tick", "thickness": 1.2, "size": 8},
              "encoding": {
                "x": {"field": "cat", "type": "nominal", "axis": null, "scale": {"domain": ["7.5", "10", "15", "Control", "_1", "_2", "_3", "_4", "_5", "_6"], "paddingInner": 0, "paddingOuter": 0.28, "align": 0.475}},
                "xOffset": {"field": "s", "type": "nominal", "scale": {"paddingInner": 0, "paddingOuter": 0.2}},
                "y": {"field": "hi", "type": "quantitative", "scale": {"domain": [-23.73, 9.45], "nice": false, "zero": false}},
                "color": {"field": "s", "type": "nominal", "scale": {"domain": ["1 day", "2 days"], "range": ["#2424f5", "#701414"]}, "legend": null}
              }
            },
            {
              "data": {"values": [{"cat": "7.5"}, {"cat": "10"}, {"cat": "15"}]},
              "mark": {"type": "text", "fontSize": 14, "fontWeight": "bold", "color": "black", "baseline": "middle"},
              "encoding": {
                "x": {"field": "cat", "type": "nominal", "axis": null, "scale": {"domain": ["7.5", "10", "15", "Control", "_1", "_2", "_3", "_4", "_5", "_6"], "paddingInner": 0, "paddingOuter": 0.28, "align": 0.475}},
                "y": {"datum": -1.41, "type": "quantitative", "scale": {"domain": [-23.73, 9.45], "nice": false, "zero": false}},
                "text": {"field": "cat"}
              }
            },
            {
              "data": {"values": [{}]},
              "mark": {"type": "text", "text": ["Control", "(-)"], "align": "left", "baseline": "middle", "lineHeight": 17, "fontSize": 14, "fontWeight": "bold", "color": "black", "dx": -16},
              "encoding": {
                "x": {"datum": "Control", "type": "nominal", "axis": null, "scale": {"domain": ["7.5", "10", "15", "Control", "_1", "_2", "_3", "_4", "_5", "_6"], "paddingInner": 0, "paddingOuter": 0.28, "align": 0.475}},
                "y": {"datum": 2.8, "type": "quantitative", "scale": {"domain": [-23.73, 9.45], "nice": false, "zero": false}}
              }
            }
          ]
        }
      ],
      "resolve": {"scale": {"x": "independent", "y": "independent", "xOffset": "independent"}}
    }
  ],
  "resolve": {"scale": {"fill": "independent", "stroke": "independent", "color": "independent"}, "legend": {"fill": "independent", "stroke": "independent"}},
  "config": {
    "view": {"stroke": "black", "strokeWidth": 2},
    "font": "Liberation Sans",
    "text": {"font": "Liberation Sans"},
    "title": {"font": "Liberation Sans", "color": "black"},
    "axis": {"labelFont": "Liberation Sans", "titleFont": "Liberation Sans"},
    "legend": {"labelFont": "Liberation Sans"}
  }
}
